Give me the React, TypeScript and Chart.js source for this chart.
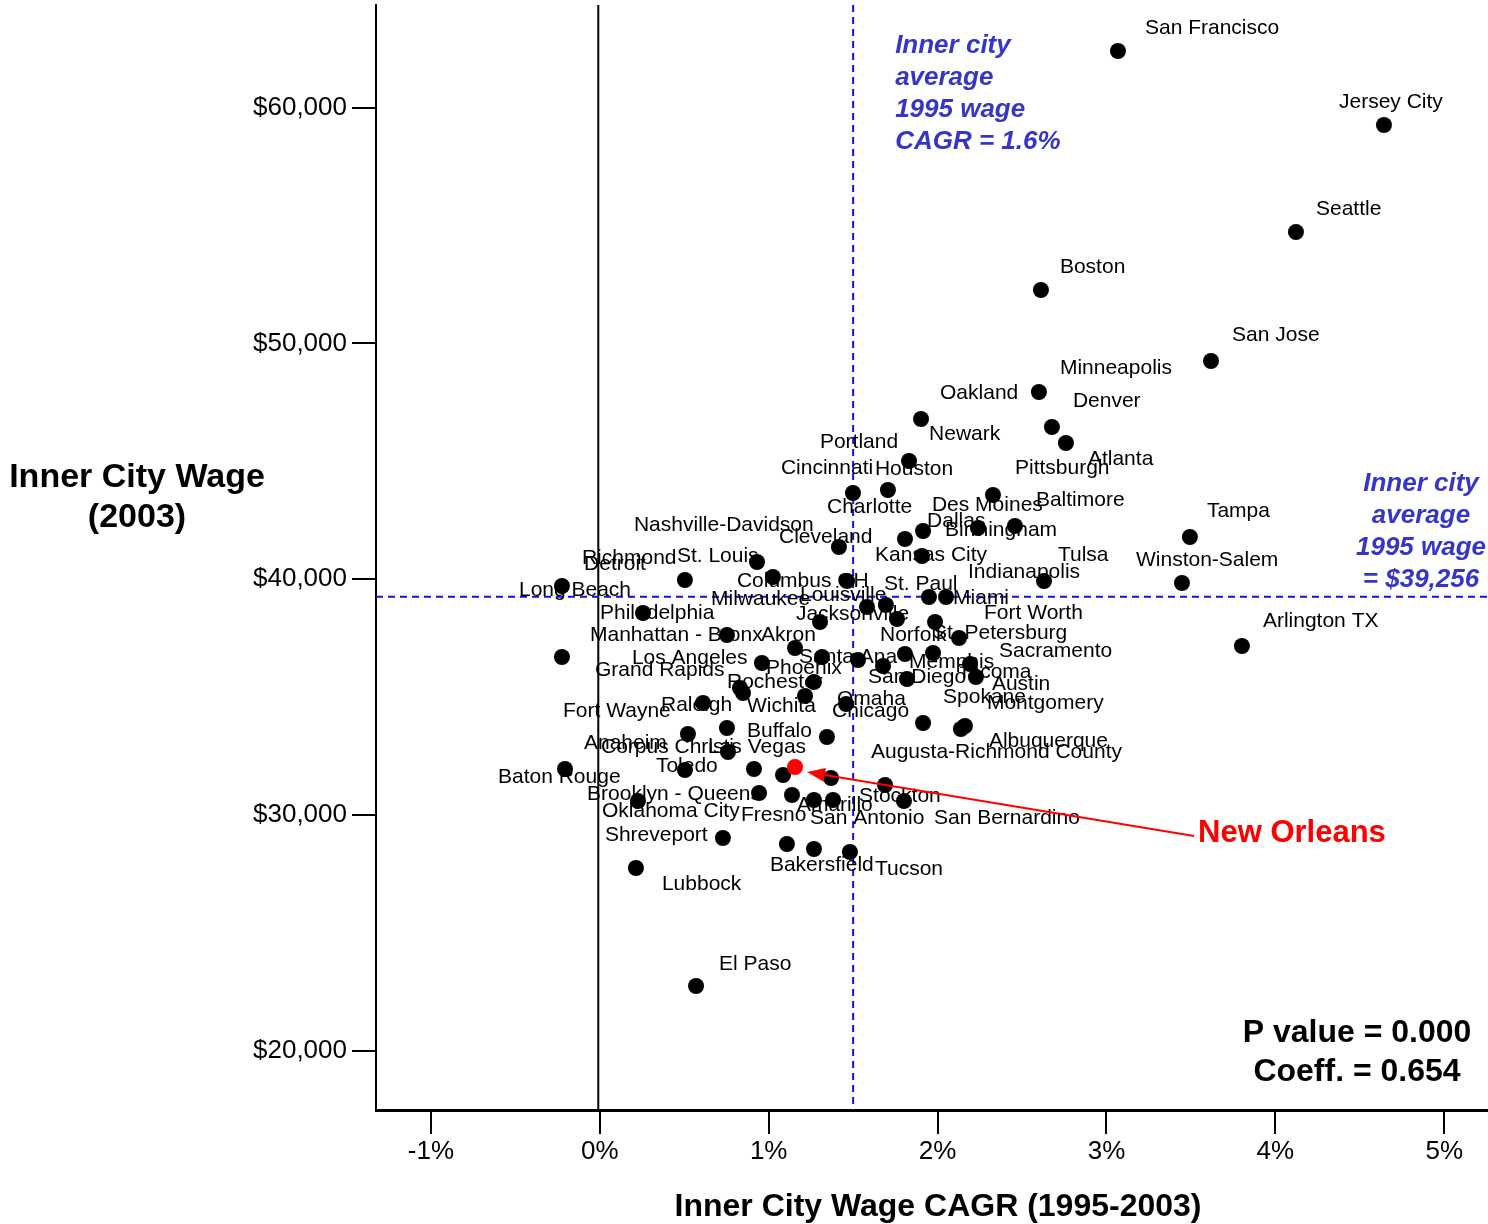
import React, { useEffect, useRef } from "react";
import { Chart, registerables } from "chart.js";

Chart.register(...registerables);

// ---------------- data ----------------
const cities = [
  "San Francisco", "Jersey City", "Seattle", "Boston", "San Jose", "Minneapolis", "Oakland", "Denver", "Atlanta", "Newark",
  "Houston", "Portland", "Pittsburgh", "Tampa", "Baltimore", "Des Moines", "Dallas", "Charlotte", "Cincinnati", "Cleveland",
  "Birmingham", "St. Louis", "Richmond", "Columbus OH", "Kansas City", "Tulsa", "Winston-Salem", "St. Paul", "Indianapolis", "Louisville",
  "Jacksonville", "Philadelphia", "Milwaukee", "St. Petersburg", "Miami", "Fort Worth", "Arlington TX", "Manhattan - Bronx", "Akron", "Long Beach",
  "Los Angeles", "Santa Ana", "Norfolk", "Memphis", "Tacoma", "San Diego", "Sacramento", "Austin", "Omaha", "Phoenix",
  "Grand Rapids", "Rochester", "Wichita", "Chicago", "Raleigh", "Spokane", "Albuquerque", "Montgomery", "Anaheim", "Corpus Christi",
  "Buffalo", "Las Vegas", "Toledo", "Fort Wayne", "Detroit", "New Orleans", "Baton Rouge", "Augusta-Richmond County", "Stockton", "Brooklyn - Queens",
  "Fresno", "Oklahoma City", "Amarillo", "San Antonio", "San Bernardino", "Shreveport", "Bakersfield", "Nashville-Davidson", "Tucson", "Lubbock",
  "El Paso",
];

// Inner city wage CAGR 1995-2003 (%)
const wageCagr = [
  3.068, 4.643, 4.122, 2.612, 3.619, 2.6, 1.902, 2.677, 2.76, 1.831,
  1.499, 1.706, 2.328, 3.494, 2.458, 2.239, 1.914, 1.807, 1.416, 0.931,
  1.908, 0.504, -0.224, 1.025, 1.464, 2.63, 3.447, 1.949, 2.05, 1.582,
  1.694, 0.256, 1.304, 1.76, 1.985, 2.127, 3.802, 0.753, 1.156, -0.224,
  0.96, 1.316, 1.529, 1.807, 1.973, 1.677, 2.192, 2.227, 1.819, 1.268,
  0.83, 0.848, 1.215, 1.458, 0.611, 1.914, 2.138, 2.162, 0.522, 0.753,
  1.345, 0.759, 0.504, 0.913, 1.085, 1.156, -0.206, 1.369, 1.689, 0.943,
  1.138, 0.226, 1.268, 1.381, 1.801, 0.729, 1.108, 1.268, 1.481, 0.214,
  0.57,
];

// Inner city wage 2003 ($)
const wage2003 = [
  62405, 59266, 54728, 52269, 49258, 47943, 46798, 46459, 45780, 45017,
  43660, 43787, 43575, 41793, 42260, 42175, 42048, 41709, 41369, 40733,
  40988, 39970, 39715, 40097, 39927, 39927, 39842, 39249, 39249, 38825,
  38909, 38570, 38189, 38316, 38189, 37510, 37171, 37637, 37086, 36704,
  36450, 36704, 36577, 36832, 36874, 36322, 36407, 35856, 35771, 35644,
  35390, 35177, 35050, 34711, 34753, 33905, 33651, 33778, 33438, 33693,
  33311, 32675, 31912, 31954, 31700, 32039, 31954, 31573, 31276, 30936,
  30852, 30597, 30640, 30640, 30597, 29028, 28773, 28562, 28434, 27756,
  22751,
];

const highlightCity = "New Orleans";
const avgWage1995 = 39256;
const avgCagrLine = 1.5;
const avgCagrText = "1.6%";
const pValue = "0.000";
const coeff = "0.654";

const xTicks = [-1, 0, 1, 2, 3, 4, 5];
const yTicks = [20000, 30000, 40000, 50000, 60000];

// label placement (pixel offsets of each label from its point) - styling only
const labelOffsets: [number, number][] = [
  [27, -23], [-45, -23], [20, -23], [19, -23], [21, -26], [21, -24], [19, -26], [21, -26], [22, 16], [20, -27],
  [22, -24], [-68, -48], [22, -27], [17, -26], [21, -26], [-46, -23], [4, -10], [-78, -32], [-58, -79], [22, -25],
  [23, -26], [-8, -24], [20, -28], [-36, 4], [28, -26], [14, -26], [-46, -23], [-45, -13], [22, -25], [-67, -12],
  [-90, 9], [-43, 0], [-109, -23], [36, 14], [18, -24], [25, -25], [21, -25], [-137, 0], [-34, -13], [-43, -67],
  [-130, -5], [-23, 0], [22, -25], [4, 8], [25, 19], [-15, 11], [29, -13], [16, 7], [-70, 20], [-48, -14],
  [-145, -18], [-16, -11], [-58, 10], [-14, 7], [-42, 2], [20, -26], [28, 12], [22, -23], [-104, 9], [-126, 19],
  [-80, -6], [-20, -5], [-29, -4], [-191, -58], [-199, -211], [403, 66], [-67, 8], [40, -26], [-26, 11], [-172, 1],
  [-51, 20], [-36, 10], [-17, 5], [-23, 18], [30, 17], [-118, -3], [-17, 21], [-180, -324], [25, 17], [26, 16],
  [23, -22],
];

const FONT = '"Liberation Sans", Arial, Helvetica, sans-serif';
const BLUE_LINE = "#1010E8";
const BLUE_TEXT = "#3535C8";

// canvas is slightly larger than the page and shifted, to compensate Chart.js point padding
const PAGE_W = 1488;
const PAGE_H = 1224;
const CANVAS_W = 1496;
const CANVAS_H = 1227;
const SHIFT_Y = 3;

const overlayPlugin = {
  id: "overlay",
  beforeDatasetsDraw(chart: any) {
    const { ctx, chartArea: a, scales } = chart;
    const x = scales.x;
    const y = scales.y;
    ctx.save();
    // zero line
    const x0 = x.getPixelForValue(0) - 1.5;
    ctx.strokeStyle = "#000";
    ctx.lineWidth = 2;
    ctx.beginPath();
    ctx.moveTo(x0, a.top);
    ctx.lineTo(x0, a.bottom);
    ctx.stroke();
    // average lines
    ctx.strokeStyle = BLUE_LINE;
    ctx.lineWidth = 2;
    ctx.setLineDash([7, 5]);
    const xv = x.getPixelForValue(avgCagrLine);
    ctx.beginPath();
    ctx.moveTo(xv, a.top);
    ctx.lineTo(xv, a.bottom);
    ctx.stroke();
    const yh = y.getPixelForValue(avgWage1995);
    ctx.beginPath();
    ctx.moveTo(a.left, yh);
    ctx.lineTo(a.right, yh);
    ctx.stroke();
    ctx.setLineDash([]);
    // city labels
    ctx.font = `21px ${FONT}`;
    ctx.fillStyle = "#000";
    ctx.textAlign = "left";
    ctx.textBaseline = "middle";
    cities.forEach((c, i) => {
      if (c === highlightCity) return;
      const px = x.getPixelForValue(wageCagr[i]);
      const py = y.getPixelForValue(wage2003[i]);
      const [dx, dy] = labelOffsets[i];
      ctx.fillText(c, px + dx, py + dy);
    });
    ctx.restore();
  },
  afterDraw(chart: any) {
    const { ctx, chartArea: a, scales } = chart;
    const x = scales.x;
    const y = scales.y;
    ctx.save();
    // highlighted city label + arrow
    const hi = cities.indexOf(highlightCity);
    const hx = x.getPixelForValue(wageCagr[hi]);
    const hy = y.getPixelForValue(wage2003[hi]);
    const [hdx, hdy] = labelOffsets[hi];
    ctx.fillStyle = "#FF0000";
    ctx.font = `bold 31px ${FONT}`;
    ctx.textAlign = "left";
    ctx.textBaseline = "middle";
    ctx.fillText(highlightCity, hx + hdx, hy + hdy);
    const sx = hx + hdx - 4;
    const sy = hy + hdy + 3;
    const tx = hx + 12;
    const ty = hy + 5;
    const ang = Math.atan2(ty - sy, tx - sx);
    const headLen = 18;
    const headW = 7;
    const bx = tx - headLen * Math.cos(ang);
    const by = ty - headLen * Math.sin(ang);
    ctx.strokeStyle = "#FF0000";
    ctx.lineWidth = 2;
    ctx.beginPath();
    ctx.moveTo(sx, sy);
    ctx.lineTo(bx, by);
    ctx.stroke();
    ctx.beginPath();
    ctx.moveTo(tx, ty);
    ctx.lineTo(bx + headW * Math.sin(ang), by - headW * Math.cos(ang));
    ctx.lineTo(bx - headW * Math.sin(ang), by + headW * Math.cos(ang));
    ctx.closePath();
    ctx.fill();

    // blue annotations
    ctx.fillStyle = BLUE_TEXT;
    ctx.font = `italic bold 26px ${FONT}`;
    const xv = x.getPixelForValue(avgCagrLine);
    ctx.textAlign = "left";
    ["Inner city", "average", "1995 wage", `CAGR = ${avgCagrText}`].forEach((t, i) => {
      ctx.fillText(t, xv + 42, a.top + 41 + i * 32);
    });
    const yh = y.getPixelForValue(avgWage1995);
    ctx.textAlign = "center";
    ["Inner city", "average", "1995 wage", `= $${avgWage1995.toLocaleString("en-US")}`].forEach((t, i) => {
      ctx.fillText(t, 1421, yh - 113 + i * 32);
    });

    // page-positioned texts
    ctx.translate(0, SHIFT_Y);
    ctx.fillStyle = "#000";
    ctx.font = `bold 32px ${FONT}`;
    ctx.textAlign = "center";
    ctx.fillText(`P value = ${pValue}`, 1357, 1033);
    ctx.fillText(`Coeff. = ${coeff}`, 1357, 1072);

    // axis titles
    ctx.font = `bold 32px ${FONT}`;
    ctx.fillText("Inner City Wage CAGR (1995-2003)", 938, 1207);
    ctx.font = `bold 34px ${FONT}`;
    ctx.fillText("Inner City Wage", 137, 478);
    ctx.fillText("(2003)", 137, 518);
    ctx.restore();
  },
};

const zeroPadding = (s: any) => {
  s.paddingTop = 0;
  s.paddingBottom = 0;
  s.paddingLeft = 0;
  s.paddingRight = 0;
};

export default function App() {
  const ref = useRef<HTMLCanvasElement | null>(null);

  useEffect(() => {
    if (!ref.current) return;
    Chart.defaults.font.family = FONT;
    const points = cities.map((_, i) => ({ x: wageCagr[i], y: wage2003[i] }));
    const colors = cities.map((c) => (c === highlightCity ? "#FF0000" : "#000000"));
    const chart = new Chart(ref.current, {
      type: "scatter",
      data: {
        datasets: [
          {
            data: points,
            pointRadius: 8,
            pointHoverRadius: 8,
            pointBorderWidth: 0,
            pointBackgroundColor: colors,
            pointBorderColor: colors,
          },
        ],
      },
      options: {
        animation: false,
        responsive: false,
        devicePixelRatio: 1,
        events: [],
        layout: { padding: { top: 0, right: 0, left: 0, bottom: 0 } },
        plugins: { legend: { display: false }, tooltip: { enabled: false }, title: { display: false } },
        scales: {
          x: {
            type: "linear",
            position: "bottom",
            min: -1.325,
            max: 5.259,
            afterFit: (s: any) => {
              s.height = 114;
              zeroPadding(s);
            },
            afterBuildTicks: (s: any) => {
              s.ticks = xTicks.map((v) => ({ value: v }));
            },
            ticks: {
              callback: (v: any) => `${v}%`,
              color: "#000",
              font: { size: 26, family: FONT },
              padding: 2,
              maxRotation: 0,
              autoSkip: false,
            },
            grid: { drawOnChartArea: false, drawTicks: true, tickLength: 24, color: "#000", lineWidth: 2 },
            border: { display: true, color: "#000", width: 3 },
          },
          y: {
            type: "linear",
            position: "left",
            min: 17493,
            max: 64355,
            afterFit: (s: any) => {
              s.width = 376;
              zeroPadding(s);
            },
            afterBuildTicks: (s: any) => {
              s.ticks = yTicks.map((v) => ({ value: v }));
            },
            ticks: {
              callback: (v: any) => `$${Number(v).toLocaleString("en-US")}`,
              color: "#000",
              font: { size: 26, family: FONT },
              padding: 5,
              autoSkip: false,
            },
            grid: { drawOnChartArea: false, drawTicks: true, tickLength: 24, color: "#000", lineWidth: 2 },
            border: { display: true, color: "#000", width: 2 },
          },
        },
      },
      plugins: [overlayPlugin],
    });
    return () => chart.destroy();
  }, []);

  return (
    <div
      style={{
        position: "absolute",
        left: 0,
        top: 0,
        width: PAGE_W,
        height: PAGE_H,
        overflow: "hidden",
        background: "#fff",
      }}
    >
      <canvas
        ref={ref}
        width={CANVAS_W}
        height={CANVAS_H}
        style={{ display: "block", marginTop: -SHIFT_Y, width: CANVAS_W, height: CANVAS_H }}
      />
    </div>
  );
}
